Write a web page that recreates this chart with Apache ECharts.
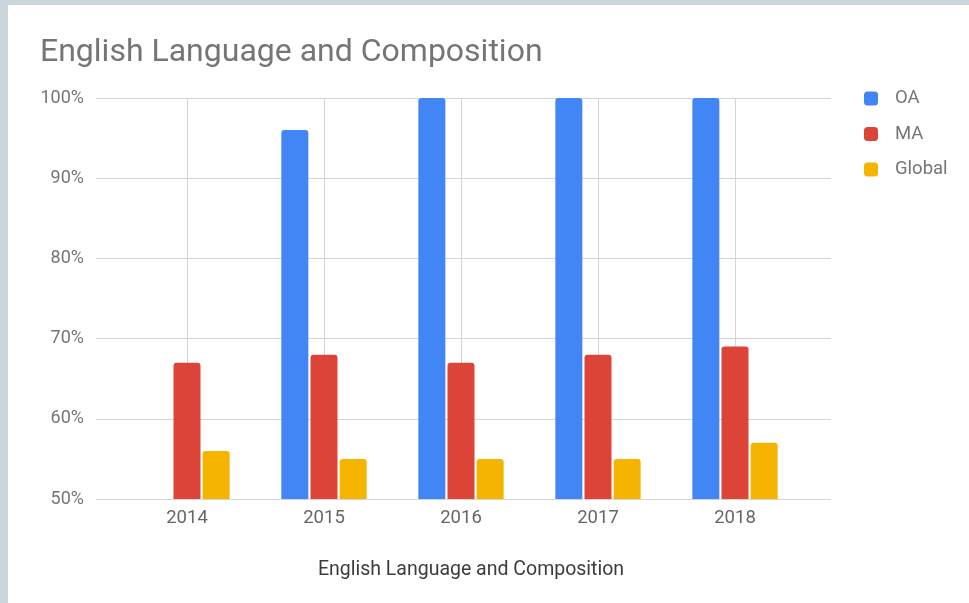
<!DOCTYPE html>
<html>
<head>
<meta charset="utf-8">
<script src="https://cdn.jsdelivr.net/npm/echarts@6/dist/echarts.min.js"></script>
<style>
html,body{margin:0;padding:0;width:969px;height:603px;background:#cbd5dc;overflow:hidden}
#card{position:absolute;left:8px;top:5px;width:961px;height:598px;background:#fff}
#chart{width:961px;height:598px}
</style>
</head>
<body>
<div id="card"><div id="chart"></div></div>
<script>
const categories = ['2014', '2015', '2016', '2017', '2018'];
const oaValues = [null, 96, 100, 100, 100];
const maValues = [67, 68, 67, 68, 69];
const globalValues = [56, 55, 55, 55, 57];
const yTicks = [50, 60, 70, 80, 90, 100];

const chart = echarts.init(document.getElementById('chart'));
const font = 'Roboto, "Noto Sans", sans-serif';
chart.setOption({
  animation: false,
  title: [
    {text: 'English Language and Composition', left: 27, top: 27,
     textStyle: {fontFamily: font, fontSize: 32, fontWeight: 'normal', color: '#757575'}},
    {text: 'English Language and Composition', left: 458, top: 550, textAlign: 'center',
     textStyle: {fontFamily: font, fontSize: 19.5, fontWeight: 'normal', color: '#3c3c3c'}}
  ],
  legend: {
    orient: 'vertical', left: 851, top: 79, itemWidth: 14, itemHeight: 14, itemGap: 16.5,
    icon: 'roundRect',
    textStyle: {fontFamily: font, fontSize: 18.5, color: '#757575', lineHeight: 14, padding: [0, 0, 0, 12]},
    data: ['OA', 'MA', 'Global']
  },
  grid: [
    {left: 88, right: 138, top: 93, bottom: 104},
    {left: 179, right: 234, top: 93, bottom: 104}
  ],
  xAxis: [
    {gridIndex: 0, type: 'value', show: false, min: 0, max: 1},
    {gridIndex: 1, type: 'category', data: categories, boundaryGap: false,
     axisLine: {show: false}, axisTick: {show: false},
     axisLabel: {fontFamily: font, fontSize: 18.5, color: '#666', margin: 10},
     splitLine: {show: true, lineStyle: {color: '#d5d5d5', width: 1}}}
  ],
  yAxis: [
    {gridIndex: 0, type: 'value', min: yTicks[0], max: yTicks[yTicks.length - 1], interval: 10,
     axisLine: {show: false}, axisTick: {show: false},
     axisLabel: {fontFamily: font, fontSize: 18, color: '#757575', margin: 12,
                 formatter: v => yTicks.includes(v) ? v + '%' : ''},
     splitLine: {lineStyle: {color: '#d5d5d5', width: 1}}},
    {gridIndex: 1, type: 'value', min: yTicks[0], max: yTicks[yTicks.length - 1], show: false,
     splitLine: {show: false}}
  ],
  series: [
    {name: 'OA', type: 'bar', xAxisIndex: 1, yAxisIndex: 1, data: oaValues,
     barWidth: 27, barGap: '8%', itemStyle: {color: '#4285F4', borderRadius: [3, 3, 0, 0]}},
    {name: 'MA', type: 'bar', xAxisIndex: 1, yAxisIndex: 1, data: maValues,
     barWidth: 27, barGap: '8%', itemStyle: {color: '#DB4437', borderRadius: [3, 3, 0, 0]}},
    {name: 'Global', type: 'bar', xAxisIndex: 1, yAxisIndex: 1, data: globalValues,
     barWidth: 27, barGap: '8%', itemStyle: {color: '#F4B400', borderRadius: [3, 3, 0, 0]}}
  ]
});
</script>
</body>
</html>
